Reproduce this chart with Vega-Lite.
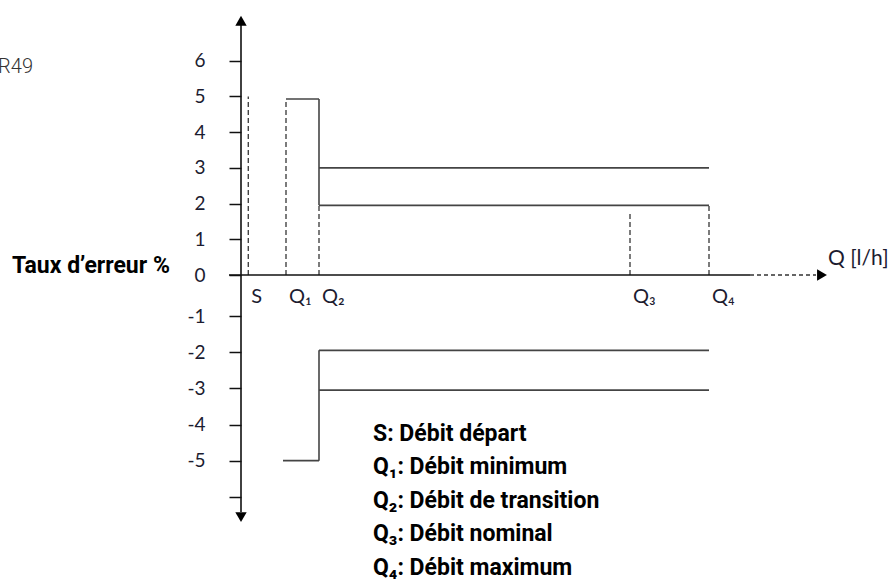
{
  "$schema": "https://vega.github.io/schema/vega-lite/v6.json",
  "width": 649,
  "height": 580,
  "autosize": {"type": "none"},
  "padding": {"left": 241, "top": 0, "right": 0, "bottom": 0},
  "background": "white",
  "config": {"view": {"stroke": null}},
  "datasets": {
    "solid": [
      {"x": 4.5, "x2": 7.8, "y": 4.93, "y2": 4.93},
      {"x": 7.8, "x2": 7.8, "y": 4.93, "y2": 1.95},
      {"x": 7.8, "x2": 46.8, "y": 3.0, "y2": 3.0},
      {"x": 7.8, "x2": 46.8, "y": 1.95, "y2": 1.95},
      {"x": 4.2, "x2": 7.8, "y": -5.0, "y2": -5.0},
      {"x": 7.8, "x2": 7.8, "y": -5.0, "y2": -1.95},
      {"x": 7.8, "x2": 46.8, "y": -1.95, "y2": -1.95},
      {"x": 7.8, "x2": 46.8, "y": -3.05, "y2": -3.05}
    ],
    "dashed": [
      {"x": 0.73, "x2": 0.73, "y": 0, "y2": 5.0},
      {"x": 4.5, "x2": 4.5, "y": 0, "y2": 4.93},
      {"x": 7.8, "x2": 7.8, "y": 0, "y2": 1.95},
      {"x": 38.9, "x2": 38.9, "y": 0, "y2": 1.74},
      {"x": 46.8, "x2": 46.8, "y": 0, "y2": 1.95}
    ],
    "axisdash": [
      {"x": 50.9, "x2": 57.5, "y": 0, "y2": 0}
    ],
    "axes": [
      {"x": -1.2, "x2": 50.9, "y": 0, "y2": 0},
      {"x": 0, "x2": 0, "y": 7.0, "y2": -6.42}
    ],
    "arrows": [
      {"x": 0, "y": 7.12, "dir": "up"},
      {"x": 0, "y": -6.56, "dir": "down"},
      {"x": 58.1, "y": 0, "dir": "right"}
    ],
    "qlabels": [
      {"x": 0.73, "y": -0.54, "label": "S"},
      {"x": 4.5, "y": -0.54, "label": "Q₁"},
      {"x": 7.8, "y": -0.54, "label": "Q₂"},
      {"x": 38.9, "y": -0.54, "label": "Q₃"},
      {"x": 46.8, "y": -0.54, "label": "Q₄"}
    ],
    "legend": [
      {"x": 13.2, "y": -4.456, "label": "S: Débit départ"},
      {"x": 13.2, "y": -5.382, "label": "Q₁: Débit minimum"},
      {"x": 13.2, "y": -6.308, "label": "Q₂: Débit de transition"},
      {"x": 13.2, "y": -7.234, "label": "Q₃: Débit nominal"},
      {"x": 13.2, "y": -8.161, "label": "Q₄: Débit maximum"}
    ],
    "ytitle": [{"x": -22.9, "y": 0.056, "label": "Taux d’erreur %"}],
    "xtitle": [{"x": 58.7, "y": 0.45, "label": "Q [l/h]"}],
    "corner": [{"x": -20.8, "y": 5.83, "label": "R49"}]
  },
  "layer": [
    {
      "data": {"name": "solid"},
      "mark": {"type": "rule", "color": "#444", "strokeWidth": 1.6},
      "encoding": {
        "x": {"field": "x", "type": "quantitative", "scale": {"domain": [0, 64.9], "nice": false, "zero": false}, "axis": null},
        "x2": {"field": "x2"},
        "y": {"field": "y", "type": "quantitative",
          "scale": {"domain": [-7, -1, 0, 7], "range": [533, 316, 275, 25], "nice": false, "zero": false},
          "axis": {
            "values": [-6, -5, -4, -3, -2, -1, 0, 1, 2, 3, 4, 5, 6],
            "labelExpr": "datum.value == -6 ? '' : '' + datum.value",
            "domain": false, "grid": false, "title": null,
            "tickSize": 12, "tickWidth": 1.5, "tickColor": "#111",
            "labelFont": "Lato", "labelFontSize": 19, "labelColor": "#1c1c30",
            "labelPadding": 24, "labelAlign": "right", "labelBaseline": "middle"
          }
        },
        "y2": {"field": "y2"}
      }
    },
    {
      "data": {"name": "dashed"},
      "mark": {"type": "rule", "color": "#444", "strokeWidth": 1.4, "strokeDash": [5, 3]},
      "encoding": {
        "x": {"field": "x", "type": "quantitative"},
        "x2": {"field": "x2"},
        "y": {"field": "y", "type": "quantitative"},
        "y2": {"field": "y2"}
      }
    },
    {
      "data": {"name": "axisdash"},
      "mark": {"type": "rule", "color": "#333", "strokeWidth": 1.4, "strokeDash": [4, 3]},
      "encoding": {
        "x": {"field": "x", "type": "quantitative"},
        "x2": {"field": "x2"},
        "y": {"field": "y", "type": "quantitative"},
        "y2": {"field": "y2"}
      }
    },
    {
      "data": {"name": "axes"},
      "mark": {"type": "rule", "color": "#111", "strokeWidth": 1.6},
      "encoding": {
        "x": {"field": "x", "type": "quantitative"},
        "x2": {"field": "x2"},
        "y": {"field": "y", "type": "quantitative"},
        "y2": {"field": "y2"}
      }
    },
    {
      "data": {"name": "arrows"},
      "mark": {"type": "point", "filled": true, "color": "#000", "opacity": 1, "size": 130},
      "encoding": {
        "x": {"field": "x", "type": "quantitative"},
        "y": {"field": "y", "type": "quantitative"},
        "shape": {"field": "dir", "type": "nominal",
          "scale": {"domain": ["up", "down", "right"], "range": ["triangle-up", "triangle-down", "triangle-right"]},
          "legend": null}
      }
    },
    {
      "data": {"name": "qlabels"},
      "mark": {"type": "text", "align": "left", "baseline": "middle", "dx": 3, "font": "Lato", "fontSize": 20, "color": "#1c1c30"},
      "encoding": {
        "x": {"field": "x", "type": "quantitative"},
        "y": {"field": "y", "type": "quantitative"},
        "text": {"field": "label"}
      }
    },
    {
      "data": {"name": "legend"},
      "mark": {"type": "text", "align": "left", "baseline": "alphabetic", "font": "Roboto", "fontWeight": "bold", "fontSize": 23, "color": "#000"},
      "encoding": {
        "x": {"field": "x", "type": "quantitative"},
        "y": {"field": "y", "type": "quantitative"},
        "text": {"field": "label"}
      }
    },
    {
      "data": {"name": "ytitle"},
      "mark": {"type": "text", "align": "left", "baseline": "alphabetic", "font": "Roboto", "fontWeight": "bold", "fontSize": 23, "color": "#000"},
      "encoding": {
        "x": {"field": "x", "type": "quantitative"},
        "y": {"field": "y", "type": "quantitative"},
        "text": {"field": "label"}
      }
    },
    {
      "data": {"name": "xtitle"},
      "mark": {"type": "text", "align": "left", "baseline": "middle", "font": "Lato", "fontSize": 21, "color": "#1c1c30"},
      "encoding": {
        "x": {"field": "x", "type": "quantitative"},
        "y": {"field": "y", "type": "quantitative"},
        "text": {"field": "label"}
      }
    },
    {
      "data": {"name": "corner"},
      "mark": {"type": "text", "align": "right", "baseline": "middle", "font": "Roboto", "fontWeight": 300, "fontSize": 20, "color": "#333"},
      "encoding": {
        "x": {"field": "x", "type": "quantitative"},
        "y": {"field": "y", "type": "quantitative"},
        "text": {"field": "label"}
      }
    }
  ]
}
